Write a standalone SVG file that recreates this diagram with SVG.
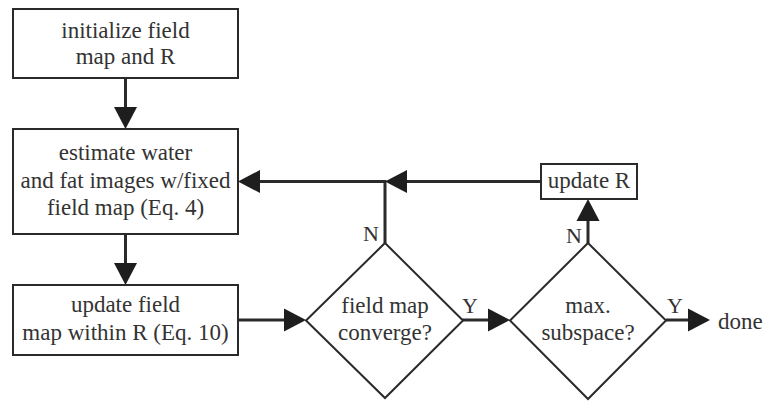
<svg xmlns="http://www.w3.org/2000/svg" width="766" height="403" viewBox="0 0 766 403">
  <style>
    .box { fill: #fff; stroke: #2a2a2a; stroke-width: 2; }
    .lbl { font-family: "Liberation Serif", "Times New Roman", serif; font-size: 23px; fill: #333; text-anchor: middle; }
    .end { font-family: "Liberation Serif", "Times New Roman", serif; font-size: 23px; fill: #333; text-anchor: start; }
    .yn { font-family: "Liberation Serif", "Times New Roman", serif; font-size: 22px; fill: #333; }
    .wire { fill: none; stroke: #2a2a2a; stroke-width: 3; }
  </style>
  <defs>
    <marker id="head" markerUnits="userSpaceOnUse" markerWidth="22" markerHeight="24" refX="0" refY="11.5" orient="auto" viewBox="0 0 22 23">
      <path d="M0,0 L22,11.5 L0,23 Z" fill="#1e1e1e"/>
    </marker>
  </defs>

  <rect width="766" height="403" fill="#fff"/>

  <g id="connectors">
    <!-- init -> estimate -->
    <line class="wire" x1="125.5" y1="78" x2="125.5" y2="107" marker-end="url(#head)"/>
    <!-- estimate -> update field -->
    <line class="wire" x1="125.5" y1="234" x2="125.5" y2="263" marker-end="url(#head)"/>
    <!-- update field -> converge? -->
    <line class="wire" x1="238" y1="320" x2="284" y2="320" marker-end="url(#head)"/>
    <!-- converge? N -> back to estimate -->
    <polyline class="wire" points="385,243 385,181.5 260,181.5" marker-end="url(#head)"/>
    <!-- update R -> junction -->
    <line class="wire" x1="541" y1="181.5" x2="407" y2="181.5" marker-end="url(#head)"/>
    <!-- converge? Y -> max. subspace? -->
    <line class="wire" x1="462" y1="320" x2="488" y2="320" marker-end="url(#head)"/>
    <!-- max. subspace? N -> update R -->
    <line class="wire" x1="588" y1="243" x2="588" y2="221" marker-end="url(#head)"/>
    <!-- max. subspace? Y -> done -->
    <line class="wire" x1="666" y1="320" x2="688" y2="320" marker-end="url(#head)"/>
  </g>

  <g id="init">
    <rect class="box" x="13" y="9" width="225" height="69"/>
    <text class="lbl" x="125.5" y="38">initialize field</text>
    <text class="lbl" x="125.5" y="64">map and R</text>
  </g>

  <g id="estimate">
    <rect class="box" x="13" y="129" width="225" height="105"/>
    <text class="lbl" x="125.5" y="160">estimate water</text>
    <text class="lbl" x="125.5" y="188">and fat images w/fixed</text>
    <text class="lbl" x="125.5" y="215">field map (Eq. 4)</text>
  </g>

  <g id="update-field">
    <rect class="box" x="13" y="285" width="225" height="70"/>
    <text class="lbl" x="125.5" y="312">update field</text>
    <text class="lbl" x="125.5" y="340">map within R (Eq. 10)</text>
  </g>

  <g id="converge">
    <polygon class="box" points="385,243 463,320.5 385,398 306,320.5"/>
    <text class="lbl" x="385" y="313">field map</text>
    <text class="lbl" x="385" y="340">converge?</text>
    <text class="yn" x="379" y="241" text-anchor="end">N</text>
    <text class="yn" x="462" y="313">Y</text>
  </g>

  <g id="update-r">
    <rect class="box" x="541" y="164" width="96" height="35"/>
    <text class="lbl" x="589" y="188">update R</text>
  </g>

  <g id="max-subspace">
    <polygon class="box" points="588,243 666,320.5 588,399 510,320.5"/>
    <text class="lbl" x="588" y="313">max.</text>
    <text class="lbl" x="588" y="340">subspace?</text>
    <text class="yn" x="582" y="243" text-anchor="end">N</text>
    <text class="yn" x="667" y="313">Y</text>
  </g>

  <g id="done">
    <text class="end" x="718" y="329">done</text>
  </g>
</svg>
